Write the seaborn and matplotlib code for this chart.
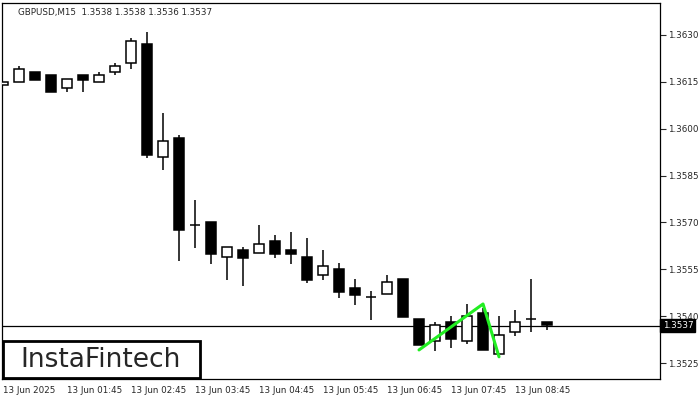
import matplotlib
matplotlib.use("Agg")
import matplotlib.pyplot as plt
import seaborn as sns
import pandas as pd
from matplotlib.patches import Rectangle

opens  = [1.3614,1.3615,1.36182,1.36172,1.36130,1.36172,1.36150,1.36182,1.36210,1.36271,
          1.35910,1.35970,1.35692,1.35702,1.35590,1.35612,1.35602,1.35641,1.35612,1.35590,
          1.35532,1.35551,1.35490,1.35462,1.35471,1.35519,1.35391,1.35321,1.35382,1.35321,
          1.35410,1.35279,1.35350,1.35391,1.35382]
closes = [1.3615,1.36191,1.36156,1.36118,1.36159,1.36156,1.36172,1.36201,1.36281,1.35916,
          1.35961,1.35676,1.35692,1.35599,1.35622,1.35586,1.35631,1.35599,1.35599,1.35516,
          1.35561,1.35478,1.35468,1.35462,1.35510,1.35398,1.35308,1.35372,1.35327,1.35401,
          1.35292,1.35340,1.35382,1.35391,1.35372]
highs  = [1.3615,1.36201,1.36182,1.36172,1.36159,1.36172,1.36182,1.36210,1.36290,1.36310,
          1.36050,1.35980,1.35772,1.35702,1.35622,1.35622,1.35692,1.35660,1.35670,1.35650,
          1.35612,1.35570,1.35519,1.35481,1.35532,1.35519,1.35391,1.35382,1.35401,1.35439,
          1.35426,1.35401,1.35420,1.35519,1.35382]
lows   = [1.3614,1.3615,1.36156,1.36118,1.36118,1.36118,1.36150,1.36172,1.36191,1.35906,
          1.35868,1.35577,1.35618,1.35567,1.35516,1.35497,1.35602,1.35586,1.35567,1.35506,
          1.35516,1.35458,1.35436,1.35388,1.35471,1.35398,1.35308,1.35289,1.35298,1.35311,
          1.35292,1.35279,1.35337,1.35350,1.35356]
pattern_idx = [26, 30, 31]
pattern_px  = [1.35292, 1.35439, 1.35270]
time_labels = ["13 Jun 2025","13 Jun 01:45","13 Jun 02:45","13 Jun 03:45","13 Jun 04:45",
               "13 Jun 05:45","13 Jun 06:45","13 Jun 07:45","13 Jun 08:45"]
price_ticks = [1.3525,1.3540,1.3555,1.3570,1.3585,1.3600,1.3615,1.3630]
current = 1.3537

sns.set_style("white")
plt.rcParams['font.family'] = ['DejaVu Sans']
fig = plt.figure(figsize=(7, 4), dpi=100)
ax = fig.add_axes([2/700, 21/400, 658/700, 376/400])
ax.set_xlim(-0.06, 41.06)
ax.set_ylim(1.35199, 1.36402)

w = 0.66
for i, (o, c, h, l) in enumerate(zip(opens, closes, highs, lows)):
    top, bot = max(o, c), min(o, c)
    ax.vlines(i, top, h, color="black", lw=1.1, zorder=2)
    ax.vlines(i, l, bot, color="black", lw=1.1, zorder=2)
    if abs(o - c) < 1e-6:
        ax.hlines(o, i - w/2, i + w/2, color="black", lw=1.1, zorder=2)
    else:
        fc = "white" if c > o else "black"
        ax.add_patch(Rectangle((i - w/2, bot), w, top - bot, facecolor=fc,
                               edgecolor="black", lw=1.1, zorder=3))

ax.axhline(current, color="black", lw=0.9, zorder=1)
df = pd.DataFrame({"x": pattern_idx, "y": pattern_px})
sns.lineplot(data=df, x="x", y="y", ax=ax, color="#22ee22", lw=2.2, zorder=5, sort=False)
ax.set_xlabel(""); ax.set_ylabel("")

ax.yaxis.tick_right()
ax.set_yticks(price_ticks)
ax.set_yticklabels([f"{p:.4f}" for p in price_ticks], fontsize=6.3)
ax.set_xticks([4*k for k in range(len(time_labels))])
ax.set_xticklabels(time_labels, fontsize=6.3, ha="left")
ax.tick_params(axis="x", length=3, direction="out", pad=2)
ax.tick_params(axis="y", length=4, direction="out", pad=2)
for s in ax.spines.values():
    s.set_color("black"); s.set_linewidth(0.9)

ax.text(1.004, current, "1.3537", transform=ax.get_yaxis_transform(), fontsize=6.3,
        color="white", va="center", ha="left", zorder=10,
        bbox=dict(boxstyle="square,pad=0.25", fc="black", ec="black"))
fig.text(18/700, 1 - 12/400, "GBPUSD,M15  1.3538 1.3538 1.3536 1.3537", fontsize=6.3, va="center")

fig.patches.append(Rectangle((3/700, 22/400), 197/700, 37/400, transform=fig.transFigure,
                             facecolor="white", edgecolor="black", lw=2, zorder=10))
fig.text(101/700, 40/400, "InstaFintech", fontsize=19, ha="center", va="center", zorder=11)

fig.savefig("out.png", dpi=100)
